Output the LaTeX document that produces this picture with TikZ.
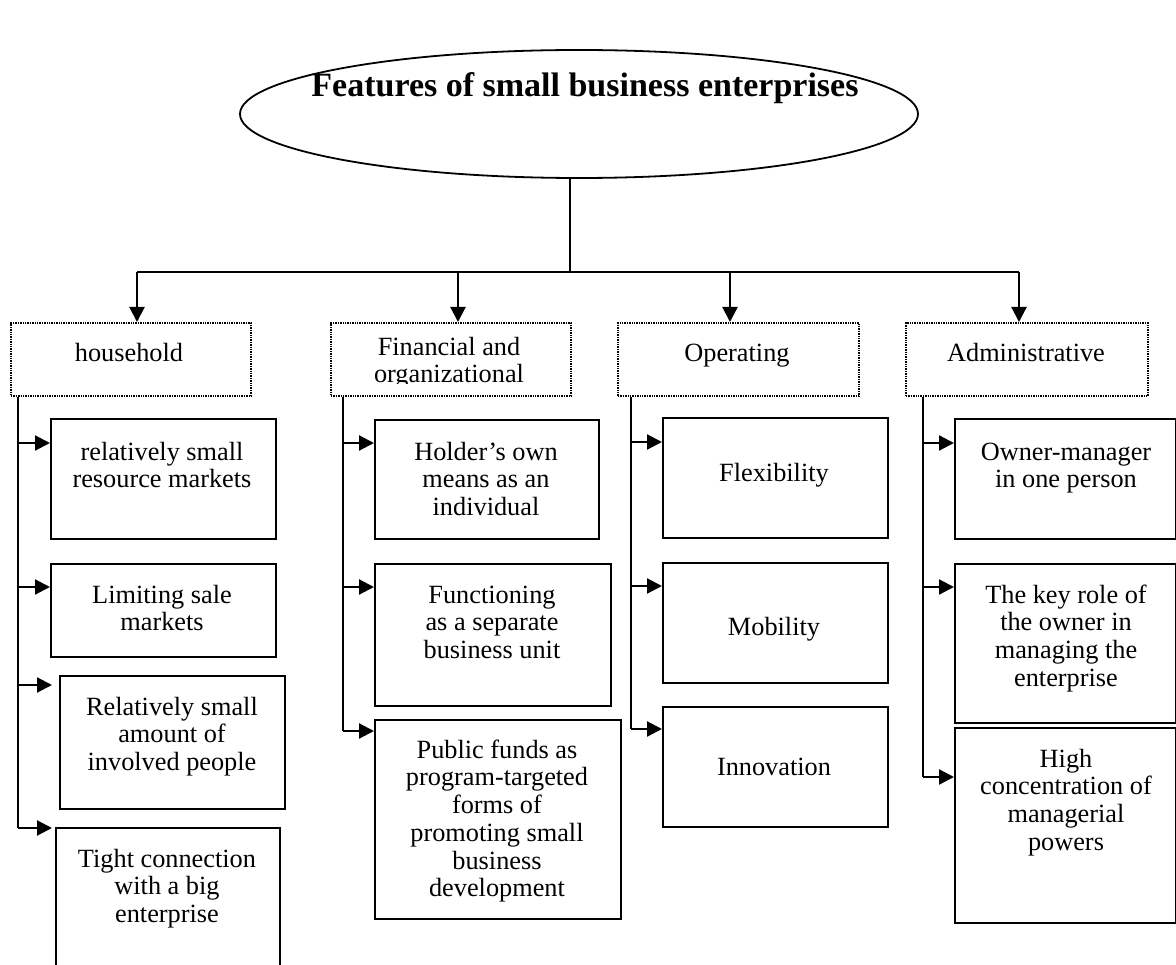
\documentclass[tikz,border=0pt]{standalone}
\usepackage{fontspec}
\setmainfont{Liberation Serif}
\usetikzlibrary{arrows.meta,shapes.geometric}

\tikzset{
  conn/.style={line width=2.2pt},
  arr/.style={conn, -{Triangle[length=15pt,width=15pt]}},
  leafbox/.style={draw, line width=2.2pt, rectangle, inner sep=0pt, anchor=north west},
  headbox/.style={draw, line width=1.9pt, dash pattern=on 1.4pt off 1pt, rectangle, inner sep=0pt, anchor=north west},
  lbl/.style={font=\fontsize{26.3}{27.7}\selectfont, align=center, inner sep=0pt, anchor=north},
  titlefont/.style={font=\fontsize{34}{40}\selectfont\bfseries, inner sep=0pt, anchor=base},
}
% box by its corners: style, x1, y1, x2, y2, name
\newcommand\boxat[6]{\node[#1, minimum width={#4-#2}, minimum height={#5-#3}] (#6) at (#2,#3) {};}
% centred text block: name, centre x, first baseline, text
\newcommand\textat[4]{\node[lbl] (#1) at (#2,{#3-19.39}) {\strut #4};}

\begin{document}
\begin{tikzpicture}[x=1pt,y=-1pt]
\useasboundingbox (0,0) rectangle (1176,965);
\clip (0,0) rectangle (1176,965);

% title
\node[draw, ellipse, line width=1.8pt, minimum width=678, minimum height=128, inner sep=0pt] (root) at (579,114) {};
\node[titlefont] (title) at (585,97) {Features of small business enterprises};

% branch headers
\boxat{headbox}{10}{322}{250}{395}{hh}
\boxat{headbox}{330}{322}{570}{395}{fin}
\boxat{headbox}{617}{322}{858}{395}{op}
\boxat{headbox}{905}{322}{1147}{395}{adm}
\node[lbl, anchor=base] (hht) at (129,362) {household};
\begin{scope}
  \clip (330,322) rectangle (570,384);
  \textat{fint}{449}{355}{Financial and\\organizational}
\end{scope}
\node[lbl, anchor=base] (opt) at (737,362) {Operating};
\node[lbl, anchor=base] (admt) at (1026,362) {Administrative};

% trunk and distribution bar
\coordinate (bar) at (570,272);
\draw[conn] (root.south -| bar) -- (bar);
\draw[conn] (137,272) -- (1019,272);
\draw[arr] (137,272) -- (hh.north -| 137,0);
\draw[arr] (458,272) -- (fin.north -| 458,0);
\draw[arr] (730,272) -- (op.north -| 730,0);
\draw[arr] (1019,272) -- (adm.north -| 1019,0);

% household
\boxat{leafbox}{50}{418}{275}{538}{b11}
\boxat{leafbox}{50}{563}{275}{656}{b12}
\boxat{leafbox}{59}{675}{284}{808}{b13}
\boxat{leafbox}{55}{827}{279}{990}{b14}
\textat{t11}{162}{460}{relatively small\\resource markets}
\textat{t12}{162}{603}{Limiting sale\\markets}
\textat{t13}{172}{715}{Relatively small\\amount of\\involved people}
\textat{t14}{167}{867}{Tight connection\\with a big\\enterprise}
\draw[conn] (hh.south -| 18,0) -- (18,828);
\draw[arr] (18,443) -- (b11.west |- 0,443);
\draw[arr] (18,587) -- (b12.west |- 0,587);
\draw[arr] (18,685) -- (52,685);
\draw[arr] (18,828) -- (52,828);

% financial and organizational
\boxat{leafbox}{374}{419}{598}{538}{b21}
\boxat{leafbox}{374}{563}{610}{705}{b22}
\boxat{leafbox}{374}{719}{620}{918}{b23}
\textat{t21}{486}{460}{Holder’s own\\means as an\\individual}
\textat{t22}{492}{603}{Functioning\\as a separate\\business unit}
\textat{t23}{497}{758}{Public funds as\\program-targeted\\forms of\\promoting small\\business\\development}
\draw[conn] (fin.south -| 343,0) -- (343,731);
\draw[arr] (343,443) -- (b21.west |- 0,443);
\draw[arr] (343,587) -- (b22.west |- 0,587);
\draw[arr] (343,731) -- (b23.west |- 0,731);

% operating
\boxat{leafbox}{662}{417}{887}{537}{b31}
\boxat{leafbox}{662}{562}{887}{682}{b32}
\boxat{leafbox}{662}{706}{887}{826}{b33}
\node[lbl, anchor=base] (t31) at (774,482) {Flexibility};
\node[lbl, anchor=base] (t32) at (774,635) {Mobility};
\node[lbl, anchor=base] (t33) at (774,775) {Innovation};
\draw[conn] (op.south -| 631,0) -- (631,729);
\draw[arr] (631,442) -- (b31.west |- 0,442);
\draw[arr] (631,586) -- (b32.west |- 0,586);
\draw[arr] (631,729) -- (b33.west |- 0,729);

% administrative
\boxat{leafbox}{954}{418}{1175}{538}{b41}
\boxat{leafbox}{954}{563}{1175}{722}{b42}
\boxat{leafbox}{954}{727}{1175}{922}{b43}
\textat{t41}{1066}{460}{Owner-manager\\in one person}
\textat{t42}{1066}{603}{The key role of\\the owner in\\managing the\\enterprise}
\textat{t43}{1066}{767}{High\\concentration of\\managerial\\powers}
\draw[conn] (adm.south -| 923,0) -- (923,777);
\draw[arr] (923,443) -- (b41.west |- 0,443);
\draw[arr] (923,587) -- (b42.west |- 0,587);
\draw[arr] (923,777) -- (b43.west |- 0,777);
\end{tikzpicture}
\end{document}
